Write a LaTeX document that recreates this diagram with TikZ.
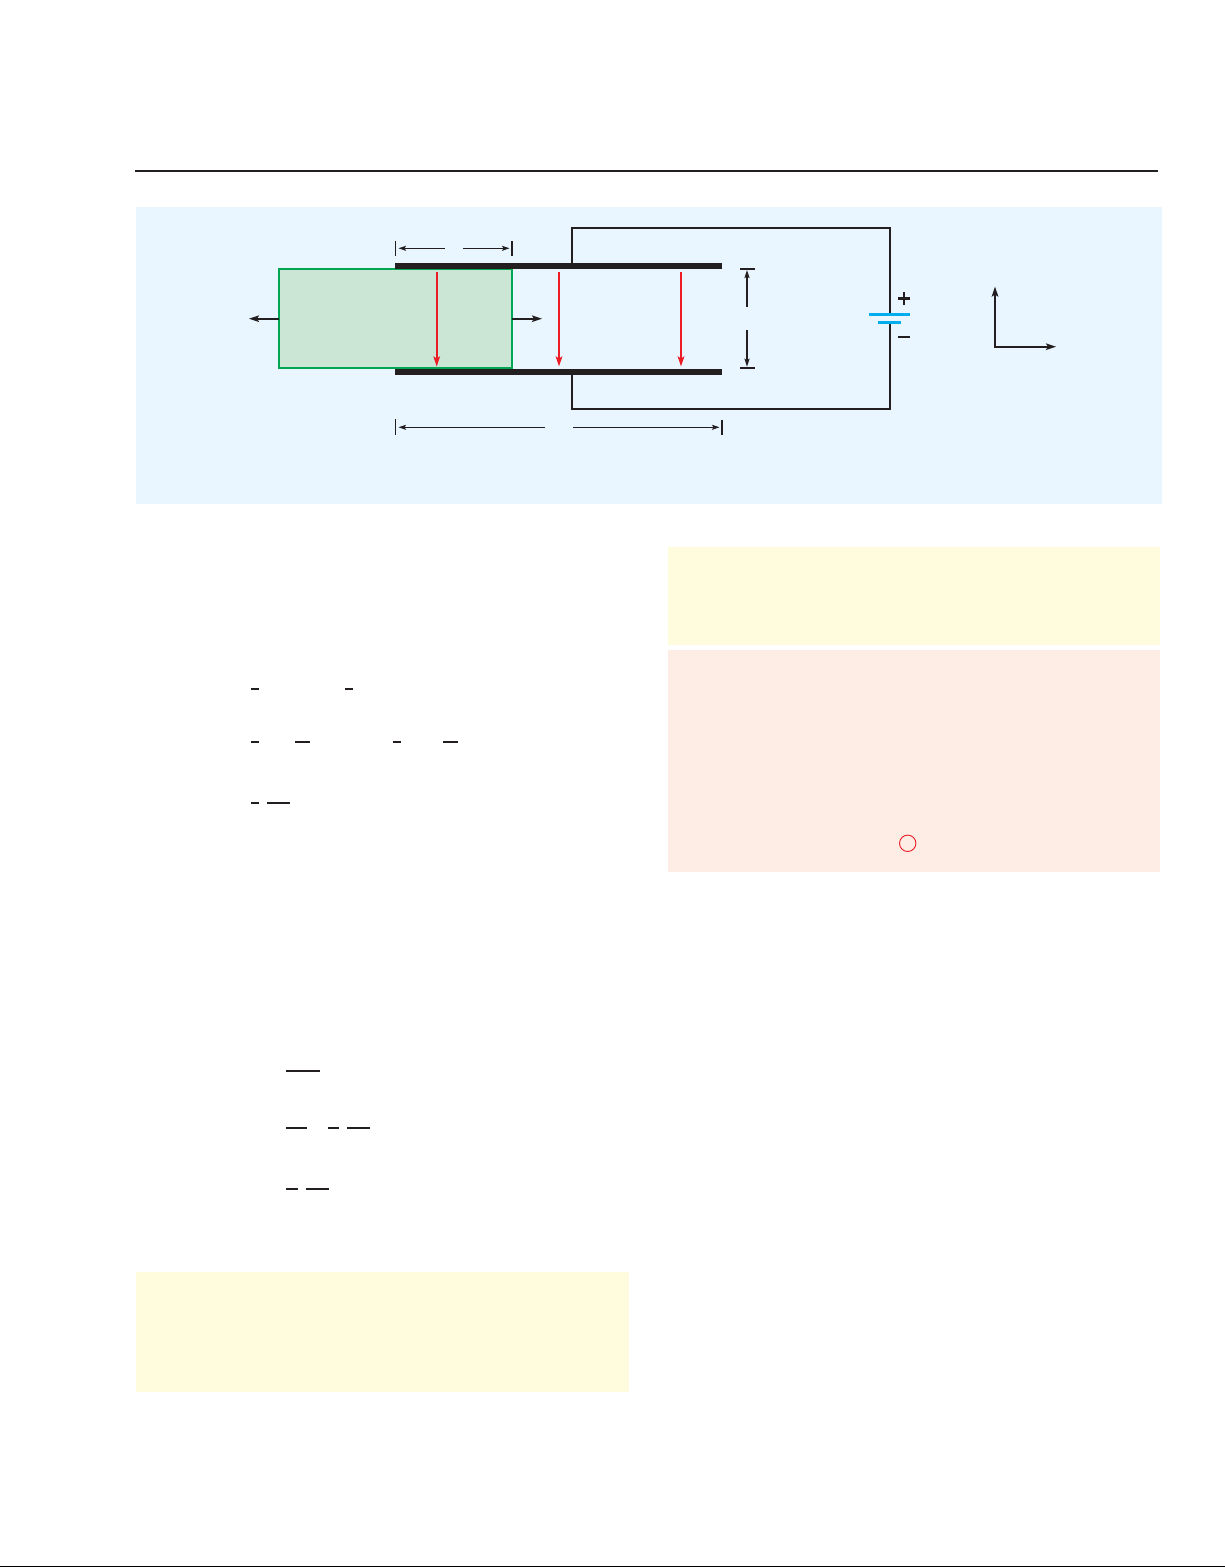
\documentclass[tikz,border=0pt]{standalone}
\usetikzlibrary{arrows.meta}
\definecolor{inkk}{HTML}{231F20}
\definecolor{panelblue}{HTML}{E9F6FF}
\definecolor{panelyellow}{HTML}{FFFCDD}
\definecolor{panelpink}{HTML}{FEEDE5}
\definecolor{greenfill}{HTML}{CCE6D6}
\definecolor{greenline}{HTML}{00A651}
\definecolor{redarrow}{HTML}{ED1C24}
\definecolor{battblue}{HTML}{00AEEF}
\tikzset{
  wire/.style={draw=inkk,line width=2pt,line cap=butt,line join=miter},
  plate/.style={fill=inkk,draw=none},
  fieldarrow/.style={draw=redarrow,line width=2pt,-{Stealth[length=10pt,width=6.5pt,inset=2pt]}},
  forcearrow/.style={draw=inkk,line width=2pt,-{Stealth[length=10pt,width=6.5pt,inset=2pt]}},
  dimarrow/.style={draw=inkk,line width=1pt,-{Stealth[length=7.5pt,width=5pt,inset=1.5pt]}},
  gaparrow/.style={draw=inkk,line width=1.8pt,-{Stealth[length=8pt,width=5pt,inset=1.5pt]}},
  thintick/.style={draw=inkk,line width=0.9pt},
  thicktick/.style={draw=inkk,line width=1.8pt},
  battline/.style={draw=battblue,line width=3pt},
  fracbar/.style={draw=inkk,line width=2pt},
}
\begin{document}
\begin{tikzpicture}[x=1pt,y=-1pt]
\useasboundingbox (0,0) rectangle (1225,1567);
% page rule
\draw[inkk,line width=2pt] (135,171) -- (1158,171);
% panels
\fill[panelblue] (136,207) rectangle (1162,504);
\fill[panelyellow] (668,547) rectangle (1160,645);
\fill[panelpink] (668,650) rectangle (1160,872);
\fill[panelyellow] (136,1272) rectangle (629,1392);
% capacitor circuit
\draw[wire] (572,263) -- (572,228) -- (890,228) -- (890,314);
\draw[wire] (572,375) -- (572,409) -- (890,409) -- (890,322);
% dielectric
\draw[greenline,fill=greenfill,line width=2pt] (279,269) rectangle (512.3,367.7);
% plates
\fill[plate] (395,262.7) rectangle (722,269);
\fill[plate] (395,369) rectangle (722,375);
% field arrows
\draw[fieldarrow] (436.7,272) -- (436.7,366.5);
\draw[fieldarrow] (559,272) -- (559,366.5);
\draw[fieldarrow] (681,272) -- (681,366.5);
% force arrows
\draw[forcearrow] (279,318.7) -- (249,318.7);
\draw[forcearrow] (512,318.7) -- (542,318.7);
% top dimension
\draw[thintick] (395.3,241) -- (395.3,255.7);
\draw[thicktick] (512,241) -- (512,255.7);
\draw[dimarrow] (445,248.3) -- (398.5,248.3);
\draw[dimarrow] (463,248.3) -- (509.5,248.3);
% bottom dimension
\draw[thintick] (395.3,419) -- (395.3,435);
\draw[thicktick] (722,420) -- (722,435);
\draw[dimarrow] (545,427.3) -- (398.5,427.3);
\draw[dimarrow] (573,427.3) -- (719.5,427.3);
% gap dimension
\draw[thicktick] (740,268.7) -- (755,268.7);
\draw[thicktick] (740,367.7) -- (755,367.7);
\draw[gaparrow] (747,306.7) -- (747,270);
\draw[gaparrow] (747,330) -- (747,366.7);
% battery
\draw[battline] (869,314.3) -- (910,314.3);
\draw[battline] (878,322.3) -- (901,322.3);
\draw[inkk,line width=2.6pt] (898,298.3) -- (910,298.3);
\draw[inkk,line width=2.6pt] (904,292) -- (904,305);
\draw[inkk,line width=2.6pt] (898,337) -- (910,337);
% axes
\coordinate (axisorigin) at (995,346.7);
\draw[forcearrow] (axisorigin) -- (995,286.5);
\draw[forcearrow] (994,346.7) -- (1056,346.7);
% fraction bars, first block
\draw[fracbar] (251,689) -- (259,689);
\draw[fracbar] (345,689) -- (353,689);
\draw[fracbar] (251,741.7) -- (259,741.7);
\draw[fracbar] (295,741.7) -- (310,741.7);
\draw[fracbar] (393,741.7) -- (401,741.7);
\draw[fracbar] (443,741.7) -- (458,741.7);
\draw[fracbar] (251,802.7) -- (259,802.7);
\draw[fracbar] (267,802.7) -- (290,802.7);
% fraction bars, second block
\draw[fracbar] (286,1070.7) -- (320,1070.7);
\draw[fracbar] (286,1127.7) -- (307,1127.7);
\draw[fracbar] (328,1127.7) -- (339,1127.7);
\draw[fracbar] (347,1127.7) -- (370,1127.7);
\draw[fracbar] (286,1188.7) -- (298,1188.7);
\draw[fracbar] (306,1188.7) -- (329,1188.7);
% circled marker
\draw[redarrow,line width=0.9pt] (907.7,843.3) circle (8.2);
% bottom page edge
\fill[black] (0,1566) rectangle (1225,1567);
\end{tikzpicture}
\end{document}
